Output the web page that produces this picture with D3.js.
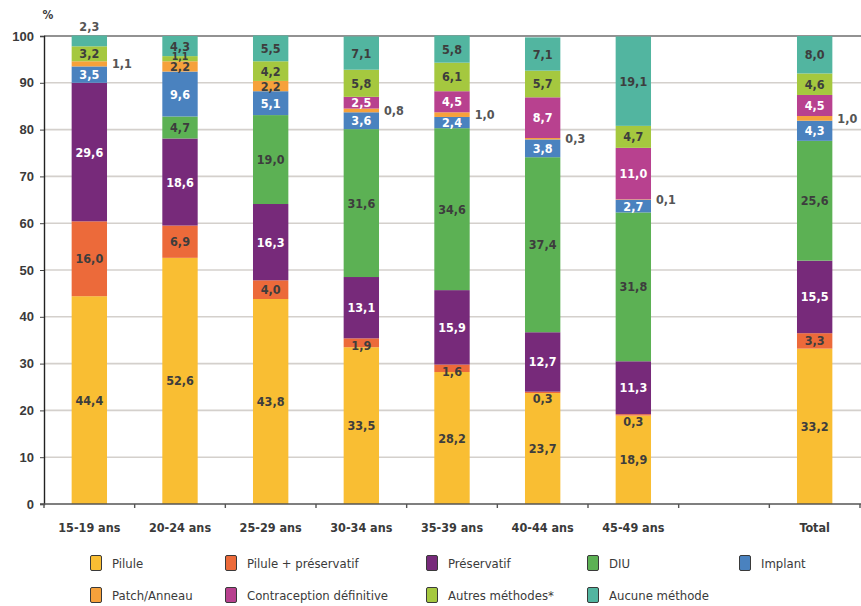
<!DOCTYPE html>
<html>
<head>
<meta charset="utf-8">
<script src="https://cdn.jsdelivr.net/npm/d3@7"></script>
<style>
  body { margin: 0; background: #fff; }
  svg { display: block; font-family: "DejaVu Sans Condensed", "Liberation Sans Narrow", "Roboto", sans-serif; }
</style>
</head>
<body>
<div id="chart"></div>
<script>
const WIDTH = 861;
const HEIGHT = 606;

// categories (an empty slot sits between 45-49 and Total)
const categories = ["15-19 ans", "20-24 ans", "25-29 ans", "30-34 ans", "35-39 ans", "40-44 ans", "45-49 ans", "", "Total"];

const seriesNames = ["Pilule", "Pilule + préservatif", "Préservatif", "DIU", "Implant",
  "Patch/Anneau", "Contraception définitive", "Autres méthodes*", "Aucune méthode"];

// values per series, one per category (gap slot = 0)
const pilule       = [44.4, 52.6, 43.8, 33.5, 28.2, 23.7, 18.9, 0, 33.2];
const pilulePreserv = [16.0, 6.9, 4.0, 1.9, 1.6, 0.3, 0.3, 0, 3.3];
const preservatif  = [29.6, 18.6, 16.3, 13.1, 15.9, 12.7, 11.3, 0, 15.5];
const diu          = [0, 4.7, 19.0, 31.6, 34.6, 37.4, 31.8, 0, 25.6];
const implant      = [3.5, 9.6, 5.1, 3.6, 2.4, 3.8, 2.7, 0, 4.3];
const patch        = [1.1, 2.2, 2.2, 0.8, 1.0, 0.3, 0.1, 0, 1.0];
const definitive   = [0, 0, 0, 2.5, 4.5, 8.7, 11.0, 0, 4.5];
const autres       = [3.2, 1.1, 4.2, 5.8, 6.1, 5.7, 4.7, 0, 4.6];
const aucune       = [2.3, 4.3, 5.5, 7.1, 5.8, 7.1, 19.1, 0, 8.0];

const yTicks = [0, 10, 20, 30, 40, 50, 60, 70, 80, 90, 100];

const colors = ["#f9be33", "#ec6a3a", "#772a7a", "#5cb154", "#4a82bf",
  "#f6a13b", "#b8418f", "#a5c83f", "#52b5a0"];
// label colour inside each series
const labelColors = ["#3d3d3d", "#3d3d3d", "#ffffff", "#3d3d3d", "#ffffff",
  "#3d3d3d", "#ffffff", "#3d3d3d", "#3d3d3d"];

const seriesValues = [pilule, pilulePreserv, preservatif, diu, implant, patch, definitive, autres, aucune];

// table for d3.stack
const table = categories.map((c, i) => {
  const row = { cat: i };
  seriesNames.forEach((s, j) => row[s] = seriesValues[j][i]);
  return row;
});

const stacked = d3.stack().keys(seriesNames)(table);

const margin = { left: 44, right: 1, top: 36, bottom: 102 };

const x = d3.scaleBand()
  .domain(d3.range(categories.length))
  .range([margin.left, WIDTH - margin.right])
  .paddingInner(0.61)
  .paddingOuter(0.305);

const y = d3.scaleLinear()
  .domain([0, 100])
  .range([HEIGHT - margin.bottom, margin.top]);

const fmt = v => v.toFixed(1).replace(".", ",");

const svg = d3.select("#chart")
  .append("svg")
  .attr("width", WIDTH)
  .attr("height", HEIGHT);

// gridlines
svg.append("g")
  .selectAll("line")
  .data(yTicks.filter(t => t > 0))
  .enter()
  .append("line")
  .attr("x1", margin.left)
  .attr("x2", WIDTH)
  .attr("y1", d => y(d))
  .attr("y2", d => y(d))
  .attr("stroke", d => d === 100 ? "#6e6e6e" : "#d4d0cc")
  .attr("stroke-width", 1.6);

// y axis
const yAxis = svg.append("g")
  .attr("transform", `translate(${margin.left},0)`)
  .call(d3.axisLeft(y).tickValues(yTicks).tickSize(4).tickPadding(6));
yAxis.select(".domain").attr("stroke", "#222").attr("stroke-width", 1.4);
yAxis.selectAll(".tick line").attr("stroke", "#444");
yAxis.selectAll("text")
  .style("font-size", "13px")
  .style("font-weight", "bold")
  .style("fill", "#3a3a3a");

svg.append("text")
  .attr("x", 48)
  .attr("y", 19)
  .attr("text-anchor", "middle")
  .text("%")
  .style("font-size", "12px")
  .style("font-weight", "bold")
  .style("fill", "#3a3a3a");

// bars
const layers = svg.append("g")
  .selectAll("g")
  .data(stacked)
  .enter()
  .append("g")
  .attr("fill", (d, i) => colors[i]);

layers.selectAll("rect")
  .data(d => d)
  .enter()
  .append("rect")
  .attr("x", d => x(d.data.cat))
  .attr("width", x.bandwidth())
  .attr("y", d => y(d[1]))
  .attr("height", d => y(d[0]) - y(d[1]));

// x axis (ticks at band boundaries)
const xAxisY = y(0);
svg.append("line")
  .attr("x1", margin.left - 4)
  .attr("x2", WIDTH)
  .attr("y1", xAxisY)
  .attr("y2", xAxisY)
  .attr("stroke", "#555")
  .attr("stroke-width", 1.6);

svg.append("g")
  .selectAll("line")
  .data(d3.range(categories.length + 1))
  .enter()
  .append("line")
  .attr("x1", i => margin.left + i * x.step())
  .attr("x2", i => margin.left + i * x.step())
  .attr("y1", xAxisY)
  .attr("y2", xAxisY + 4)
  .attr("stroke", "#555")
  .attr("stroke-width", 1.4);

svg.append("g")
  .selectAll("text")
  .data(categories)
  .enter()
  .append("text")
  .attr("x", (d, i) => x(i) + x.bandwidth() / 2)
  .attr("y", xAxisY + 28)
  .attr("text-anchor", "middle")
  .text(d => d)
  .style("font-size", "12.5px")
  .style("font-weight", "bold")
  .style("fill", "#3a3a3a");

// segment labels
const labels = [];
stacked.forEach((layer, si) => {
  layer.forEach(d => {
    const v = d[1] - d[0];
    if (v <= 0) return;
    const top = y(d[1]);
    const bottom = y(d[0]);
    const h = bottom - top;
    const cx = x(d.data.cat) + x.bandwidth() / 2;
    let lx = cx, ly = (top + bottom) / 2, anchor = "middle", col = labelColors[si], size = 12.5;
    if (si === 5 && v < 1.5) {
      // tiny patch slices: label to the right of the bar
      lx = x(d.data.cat) + x.bandwidth() + 5;
      anchor = "start";
      col = "#555";
    } else if (si === 8 && v < 3) {
      // thin top slice: label above the bar
      ly = top - 9;
      col = "#555";
    } else if (si === 1 && h < 12) {
      ly = top + 7;
    } else if (h < 8) {
      ly = top;
      size = 10.5;
    }
    labels.push({ x: lx, y: ly, anchor, col, size, text: fmt(v) });
  });
});

svg.append("g")
  .selectAll("text")
  .data(labels)
  .enter()
  .append("text")
  .attr("x", d => d.x)
  .attr("y", d => d.y)
  .attr("dy", "0.36em")
  .attr("text-anchor", d => d.anchor)
  .text(d => d.text)
  .style("font-size", d => d.size + "px")
  .style("font-weight", "bold")
  .style("fill", d => d.col);

// legend
const legendCols = [90, 225, 426, 587, 739];
const legendRows = [563, 595];
const legend = svg.append("g")
  .selectAll("g")
  .data(seriesNames)
  .enter()
  .append("g")
  .attr("transform", (d, i) => `translate(${legendCols[i % 5]},${legendRows[Math.floor(i / 5)]})`);

legend.append("rect")
  .attr("x", 0.5)
  .attr("y", -7.5)
  .attr("width", 11)
  .attr("height", 15)
  .attr("rx", 1.5)
  .attr("fill", (d, i) => colors[i])
  .attr("stroke", "#3a3a3a")
  .attr("stroke-width", 1);

legend.append("text")
  .attr("x", 22)
  .attr("y", 0)
  .attr("dy", "0.36em")
  .text(d => d)
  .style("font-size", "13px")
  .style("fill", "#3a3a3a");
</script>
</body>
</html>
